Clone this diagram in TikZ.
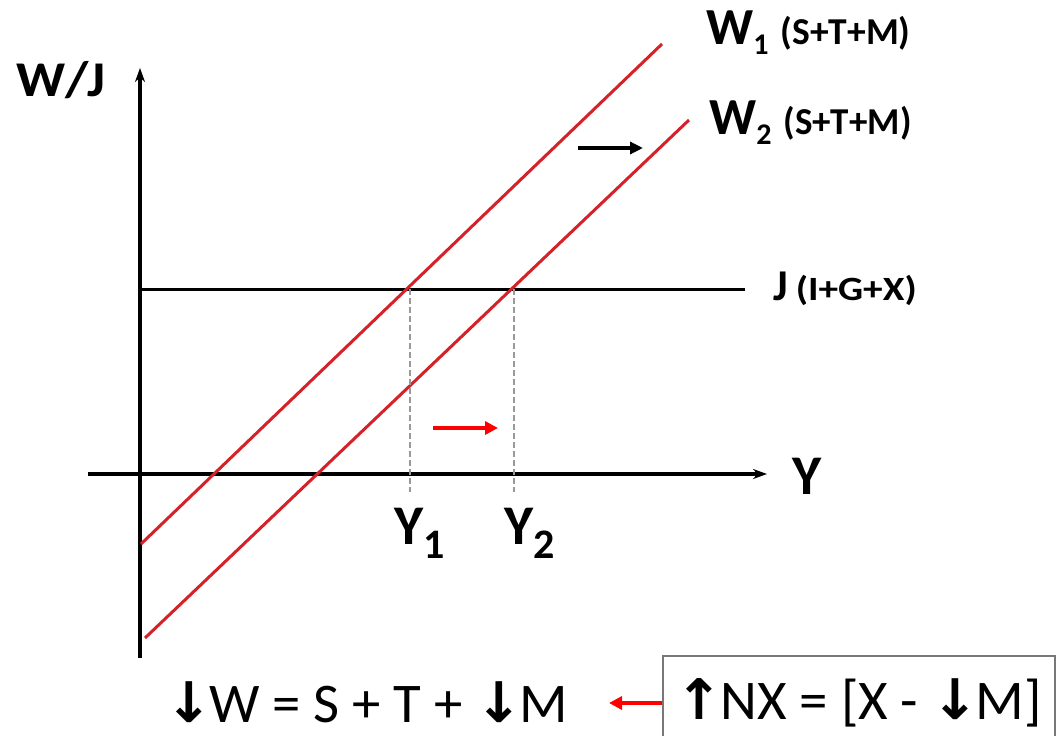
\documentclass[tikz,border=0pt]{standalone}
\usepackage{fontspec}
\usepackage{graphicx}
\setmainfont{Carlito}
\newfontfamily\arrowfont{DejaVu Sans}
\usetikzlibrary{arrows.meta}
\newcommand{\fsz}[1]{\fontsize{#1bp}{#1bp}\selectfont}
\newcommand{\wfit}[2]{\resizebox{#1bp}{\height}{#2}}
\definecolor{wred}{RGB}{212,34,40}
\definecolor{boxgray}{RGB}{120,120,120}
\begin{document}
\begin{tikzpicture}[x=1bp,y=-1bp,
  axis/.style={line width=3.4bp,-{Stealth[length=14bp,width=10bp]}},
  jline/.style={line width=3bp},
  wline/.style={line width=3bp,draw=wred},
  guide/.style={line width=1.3bp,draw=gray!80,dash pattern=on 6bp off 3bp},
  shiftblack/.style={line width=3.5bp,-{Triangle[length=13bp,width=12bp]}},
  shiftred/.style={line width=4bp,draw=red,-{Triangle[length=13bp,width=13bp]}},
  lbl/.style={inner sep=0pt,anchor=base west},
]
\useasboundingbox (0,0) rectangle (1057,736);
% axes
\coordinate (ytop) at (140,68);
\coordinate (ybot) at (140,658);
\coordinate (xleft) at (88,474);
\coordinate (xright) at (767,474);
\draw[axis] (ybot) -- (ytop);
\draw[axis] (xleft) -- (xright);
% injections line
\coordinate (j0) at (140,289);
\coordinate (j1) at (745,289);
\draw[jline] (j0) -- (j1);
% withdrawal lines
\coordinate (w1a) at (141,544);
\coordinate (w1b) at (662,44);
\coordinate (w2a) at (145,638);
\coordinate (w2b) at (689,120);
\draw[wline] (w1a) -- (w1b);
\draw[wline] (w2a) -- (w2b);
% equilibrium guides
\coordinate (e1) at (410,289);
\coordinate (e2) at (514,289);
\coordinate (e1b) at (410,492);
\coordinate (e2b) at (514,492);
\draw[guide] (e1) -- (e1b);
\draw[guide] (e2) -- (e2b);
% shift arrows
\coordinate (sa0) at (578,148);
\coordinate (sa1) at (643,148);
\draw[shiftblack] (sa0) -- (sa1);
\coordinate (sb0) at (433,428);
\coordinate (sb1) at (498,428);
\draw[shiftred] (sb0) -- (sb1);
% labels
\node[lbl] (wj) at (16,97) {\wfit{89}{\fsz{50}\bfseries W/J}};
\node[lbl] (ylab) at (792,494) {\fsz{56}\bfseries Y};
\node[lbl] (y1) at (394,544) {\fsz{56}\bfseries Y\raisebox{-14bp}{\fsz{42}1}};
\node[lbl] (y2) at (504,544) {\fsz{56}\bfseries Y\raisebox{-14bp}{\fsz{42}2}};
\node[lbl] (w1lab) at (706,45) {\bfseries\fsz{52}W\raisebox{-10bp}{\fsz{30}1}\hspace{12bp}\wfit{130}{\fsz{38}(S+T+M)}};
\node[lbl] (w2lab) at (709,134) {\bfseries\fsz{52}W\raisebox{-10bp}{\fsz{30}2}\hspace{12bp}\wfit{128}{\fsz{38}(S+T+M)}};
\node[lbl] (jlab) at (773,300) {\bfseries\fsz{44}J\hspace{8bp}\wfit{121}{\fsz{34}(I+G+X)}};
% bottom equations
\node[lbl] (weq) at (165,722) {\wfit{403}{\fsz{56}{\arrowfont\bfseries↓}\hspace{-3bp}W = S + T + {\arrowfont\bfseries↓}\hspace{-3bp}M}};
\node[draw=boxgray,line width=1.4bp,minimum width=392bp,minimum height=94bp,inner sep=0pt] (nx) at (859,703) {\wfit{366}{\fsz{56}{\arrowfont\bfseries↑}\hspace{-3bp}NX = [X - {\arrowfont\bfseries↓}\hspace{-3bp}M]}};
\coordinate (arrtip) at (609,703);
\draw[shiftred] (nx.west) -- (arrtip);
\end{tikzpicture}
\end{document}
